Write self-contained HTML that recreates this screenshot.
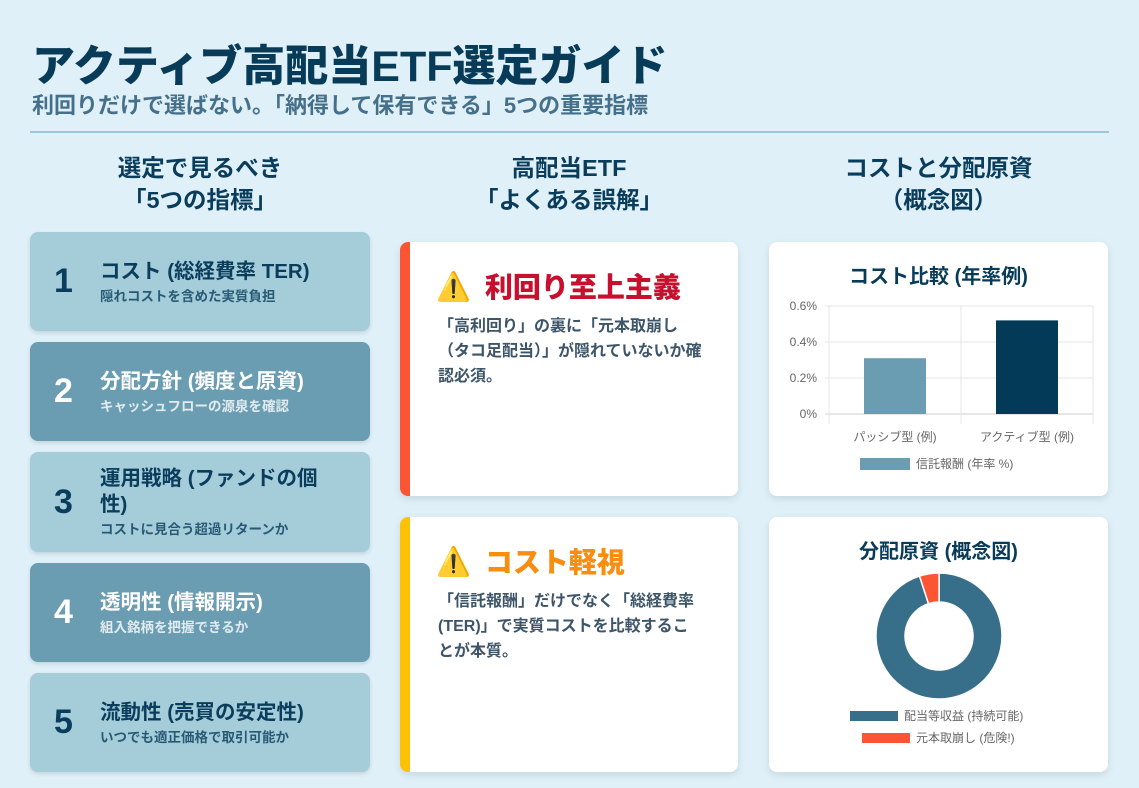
<!DOCTYPE html>
<html><head><meta charset="utf-8"><style>
*{box-sizing:border-box;margin:0;padding:0}
body{width:1139px;height:788px;overflow:hidden;background:#dff0f8;font-family:"Liberation Sans","Noto Sans CJK JP",sans-serif;position:relative;color:#0a3d5c}
.abs{position:absolute}
h1{position:absolute;left:32px;top:32px;font-size:43px;font-weight:900;color:#073b58;letter-spacing:0}
.sub{left:32px;top:88px;font-size:22px;font-weight:700;color:#46708a}
.hr{left:30px;top:131px;width:1079px;height:2px;background:#9cc8da}
.colh{font-size:23.5px;font-weight:700;text-align:center;line-height:32px;color:#0a3d5c}
.lc{left:30px;width:340px;height:99px;border-radius:8px;box-shadow:0 2px 4px rgba(0,0,0,.12)}
.lc .n{position:absolute;left:24px;top:0;height:100%;display:flex;align-items:center;font-size:34px;font-weight:700}
.lc .t{position:absolute;left:70px;right:28px;top:0;height:100%;display:flex;flex-direction:column;justify-content:center}
.lc .t b{font-size:20.5px;line-height:26px}
.lc .t span{font-size:13.5px;font-weight:700;opacity:.8}
.light{background:#a4ccd9;color:#0a3d5c}
.dark{background:#6a9db2;color:#fff}
.card{background:#fff;border-radius:8px;box-shadow:0 3px 8px rgba(0,0,0,.1)}
.mc{left:400px;width:338px}
.mc h3{position:absolute;left:26px;top:24px;font-size:28px;font-weight:900;display:flex;align-items:center;gap:14px}
.mc p{position:absolute;left:28px;right:36px;font-size:16px;font-weight:700;color:#3d5568;line-height:25px}
.rc{left:769px;width:339px}
.rc h4{position:absolute;width:100%;text-align:center;font-size:20px;font-weight:700;color:#073b58}
</style></head><body>
<h1>アクティブ高配当ETF選定ガイド</h1>
<div class="abs sub">利回りだけで選ばない。「納得して保有できる」5つの重要指標</div>
<div class="abs hr"></div>
<div class="abs colh" style="left:30px;width:340px;top:152px">選定で見るべき<br>「5つの指標」</div>
<div class="abs colh" style="left:400px;width:338px;top:152px">高配当ETF<br>「よくある誤解」</div>
<div class="abs colh" style="left:769px;width:339px;top:152px">コストと分配原資<br>（概念図）</div>

<div class="abs lc light" style="top:232px"><div class="n">1</div><div class="t"><b>コスト (総経費率 TER)</b><span>隠れコストを含めた実質負担</span></div></div>
<div class="abs lc dark" style="top:342px"><div class="n">2</div><div class="t"><b>分配方針 (頻度と原資)</b><span>キャッシュフローの源泉を確認</span></div></div>
<div class="abs lc light" style="top:452px;height:100px"><div class="n">3</div><div class="t"><b>運用戦略 (ファンドの個性)</b><span>コストに見合う超過リターンか</span></div></div>
<div class="abs lc dark" style="top:563px"><div class="n">4</div><div class="t"><b>透明性 (情報開示)</b><span>組入銘柄を把握できるか</span></div></div>
<div class="abs lc light" style="top:673px"><div class="n">5</div><div class="t"><b>流動性 (売買の安定性)</b><span>いつでも適正価格で取引可能か</span></div></div>

<div class="abs card mc" style="top:242px;height:254px;border-left:10px solid #fc5533">
<h3 style="color:#c8102e"><span style="font-size:28px">⚠️</span>利回り至上主義</h3>
<p style="top:72px">「高利回り」の裏に「元本取崩し（タコ足配当）」が隠れていないか確認必須。</p></div>
<div class="abs card mc" style="top:517px;height:255px;border-left:10px solid #fdc206">
<h3 style="color:#f98d10"><span style="font-size:28px">⚠️</span>コスト軽視</h3>
<p style="top:72px">「信託報酬」だけでなく「総経費率(TER)」で実質コストを比較することが本質。</p></div>

<div class="abs card rc" style="top:242px;height:254px">
<h4 style="top:18px">コスト比較 (年率例)</h4></div>
<div class="abs card rc" style="top:517px;height:255px">
<h4 style="top:18px">分配原資 (概念図)</h4></div>

<svg class="abs" style="left:0;top:0" width="1139" height="788" id="charts"></svg>
<script>
const barCats=["パッシブ型 (例)","アクティブ型 (例)"];
const barVals=[0.31,0.52];
const yTicks=[0,0.2,0.4,0.6];
const pieLabels=["配当等収益 (持続可能)","元本取崩し (危険!)"];
const pieVals=[95,5];
const NS="http://www.w3.org/2000/svg";
const svg=document.getElementById('charts');
function mk(t,a,txt){const e=document.createElementNS(NS,t);for(const k in a)e.setAttribute(k,a[k]);if(txt!=null)e.textContent=txt;svg.appendChild(e);return e;}
const x0=829,x1=1093,yb=414,yt=306;
const ys=v=>yb-(v/0.6)*(yb-yt);
const bw=(x1-x0)/barCats.length;
yTicks.forEach(v=>{
 const g=mk('line',{x1:x0-4,x2:x1,y1:ys(v),y2:ys(v),stroke:v===0?'#ccc':'#e6e6e6'});
 
 const t=mk('text',{x:x0-12,y:ys(v)+4,'text-anchor':'end','font-size':12,fill:'#666','font-family':'Liberation Sans, sans-serif'},(v===0?'0':v.toFixed(1))+'%');
 
});
for(let i=0;i<=barCats.length;i++){const l=mk('line',{x1:x0+i*bw,x2:x0+i*bw,y1:yt,y2:yb+10,stroke:'#e6e6e6'});}
const cols=['#6a9db2','#023a58'];
barCats.forEach((c,i)=>{
 const cx=x0+bw*(i+0.5);
 const r=mk('rect',{x:cx-31,y:ys(barVals[i]),width:62,height:yb-ys(barVals[i]),fill:cols[i]});
 
 const t=mk('text',{x:cx,y:441,'text-anchor':'middle','font-size':12,fill:'#666','font-family':'Liberation Sans, Noto Sans CJK JP, sans-serif'},c);
 
});
let lg=mk('rect',{x:860,y:458,width:50,height:12,fill:'#6a9db2'});
lg=mk('text',{x:916,y:468,'font-size':12,fill:'#666','font-family':'Liberation Sans, Noto Sans CJK JP, sans-serif'},'信託報酬 (年率 %)');
const cx=939,cy=636,R=63,r0=34;
const tot=pieVals.reduce((a,b)=>a+b,0);
const pcols=['#376e8a','#fc5533'];
let a=-Math.PI/2;
pieVals.forEach((v,i)=>{
 const a2=a+v/tot*2*Math.PI;const lf=(a2-a)>Math.PI?1:0;
 const p=(ang,rr)=>[cx+rr*Math.cos(ang),cy+rr*Math.sin(ang)];
 const [ax,ay]=p(a,R),[bx,by]=p(a2,R),[cx2,cy2]=p(a2,r0),[dx,dy]=p(a,r0);
 const s=mk('path',{d:`M${ax},${ay}A${R},${R} 0 ${lf} 1 ${bx},${by}L${cx2},${cy2}A${r0},${r0} 0 ${lf} 0 ${dx},${dy}Z`,fill:pcols[i],stroke:'#fff','stroke-width':1.5});
 
 a=a2;
});
pieLabels.forEach((l,i)=>{
 const w=48;const tx=i===0?850:862;const y=i===0?711:733;
 const s=mk('rect',{x:tx,y:y,width:w,height:10,fill:pcols[i]});
 
 const t=mk('text',{x:tx+w+6,y:y+9,'font-size':12,fill:'#666','font-family':'Liberation Sans, Noto Sans CJK JP, sans-serif'},l);
 
});
</script>
</body></html>
